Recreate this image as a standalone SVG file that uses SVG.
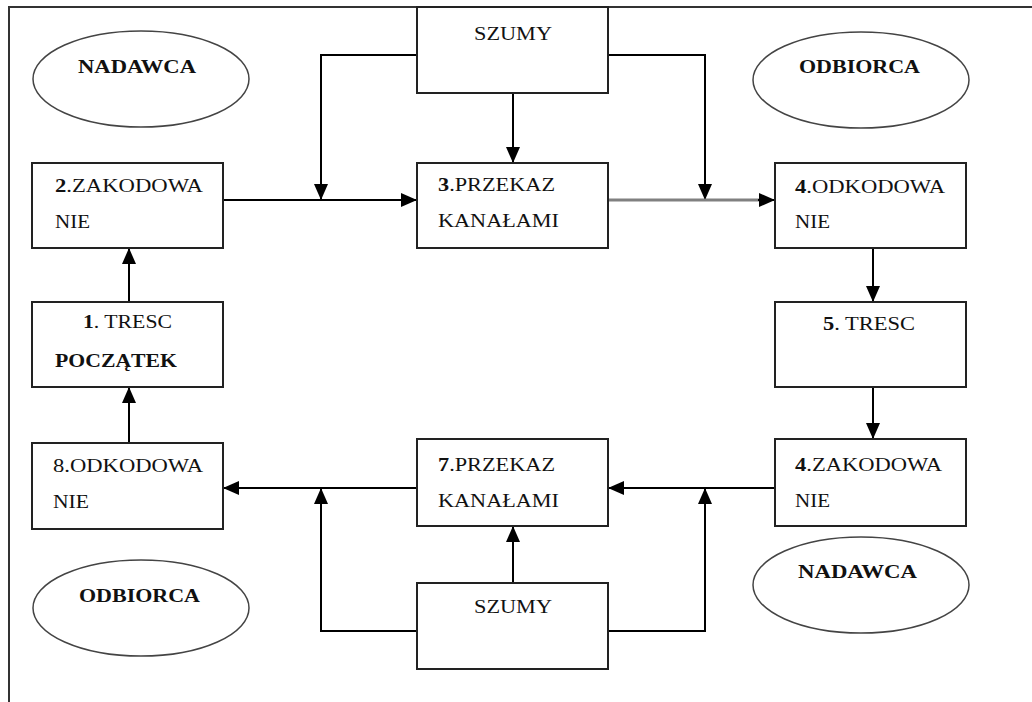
<svg xmlns="http://www.w3.org/2000/svg" width="1032" height="702" viewBox="0 0 1032 702">
<defs>
<marker id="ah" viewBox="0 0 16 14" refX="16" refY="7" markerWidth="16" markerHeight="14" markerUnits="userSpaceOnUse" orient="auto">
<path d="M0,0 L16,7 L0,14 Z" fill="#000"/>
</marker>
</defs>
<style>
.box{fill:#fff;stroke:#222;stroke-width:2}
.ell{fill:#fff;stroke:#444;stroke-width:1.5}
text{font-family:'Liberation Serif','DejaVu Serif',serif;font-size:19px;fill:#111}
.b{font-weight:bold}
.c{fill:none;stroke:#000;stroke-width:2}
.g{fill:none;stroke:#808080;stroke-width:3}
.frame{fill:none;stroke:#333;stroke-width:2}
</style>
<rect width="1032" height="702" fill="#fff"/>
<path class="frame" d="M9,702 L9,7 L1032,7"/>

<g id="connectors">
<path class="c" d="M417,55 L321,55 L321,200" marker-end="url(#ah)"/>
<path class="c" d="M513,93 L513,163" marker-end="url(#ah)"/>
<path class="c" d="M608,55 L705,55 L705,200" marker-end="url(#ah)"/>
<path class="c" d="M223,200 L417,200" marker-end="url(#ah)"/>
<path class="g" d="M608,200 L760,200"/>
<path class="c" d="M758,200 L775,200" marker-end="url(#ah)"/>
<path class="c" d="M873,248 L873,302" marker-end="url(#ah)"/>
<path class="c" d="M873,387 L873,439" marker-end="url(#ah)"/>
<path class="c" d="M775,488 L608,488" marker-end="url(#ah)"/>
<path class="c" d="M417,488 L223,488" marker-end="url(#ah)"/>
<path class="c" d="M417,631 L321,631 L321,488" marker-end="url(#ah)"/>
<path class="c" d="M608,631 L705,631 L705,488" marker-end="url(#ah)"/>
<path class="c" d="M513,583 L513,526" marker-end="url(#ah)"/>
<path class="c" d="M129,302 L129,248" marker-end="url(#ah)"/>
<path class="c" d="M129,443 L129,387" marker-end="url(#ah)"/>
</g>

<g id="nadawca1">
<ellipse class="ell" cx="141" cy="79" rx="108" ry="48"/>
<text class="b" x="78" y="73" font-family="Liberation Serif, DejaVu Serif, serif" textLength="118" lengthAdjust="spacingAndGlyphs">NADAWCA</text>
</g>
<g id="odbiorca1">
<ellipse class="ell" cx="861" cy="80" rx="108" ry="48"/>
<text class="b" x="799" y="73" font-family="Liberation Serif, DejaVu Serif, serif" textLength="121" lengthAdjust="spacingAndGlyphs">ODBIORCA</text>
</g>
<g id="odbiorca2">
<ellipse class="ell" cx="141" cy="608" rx="108" ry="48"/>
<text class="b" x="79" y="602" font-family="Liberation Serif, DejaVu Serif, serif" textLength="121" lengthAdjust="spacingAndGlyphs">ODBIORCA</text>
</g>
<g id="nadawca2">
<ellipse class="ell" cx="861" cy="585" rx="108" ry="48"/>
<text class="b" x="798" y="578" font-family="Liberation Serif, DejaVu Serif, serif" textLength="119" lengthAdjust="spacingAndGlyphs">NADAWCA</text>
</g>

<g id="szumy1">
<rect class="box" x="417" y="7" width="191" height="86"/>
<text x="474" y="40" font-family="Liberation Serif, DejaVu Serif, serif" textLength="78" lengthAdjust="spacingAndGlyphs">SZUMY</text>
</g>
<g id="zakodowanie2">
<rect class="box" x="32" y="163" width="191" height="85"/>
<text x="55" y="192" font-family="Liberation Serif, DejaVu Serif, serif" textLength="148" lengthAdjust="spacingAndGlyphs"><tspan class="b">2</tspan>.ZAKODOWA</text>
<text x="55" y="228" font-family="Liberation Serif, DejaVu Serif, serif" textLength="35" lengthAdjust="spacingAndGlyphs">NIE</text>
</g>
<g id="przekaz3">
<rect class="box" x="417" y="163" width="191" height="85"/>
<text x="438" y="191" font-family="Liberation Serif, DejaVu Serif, serif" textLength="117" lengthAdjust="spacingAndGlyphs"><tspan class="b">3</tspan>.PRZEKAZ</text>
<text x="438" y="227" font-family="Liberation Serif, DejaVu Serif, serif" textLength="121" lengthAdjust="spacingAndGlyphs">KANAŁAMI</text>
</g>
<g id="odkodowanie4">
<rect class="box" x="775" y="163" width="191" height="85"/>
<text x="795" y="193" font-family="Liberation Serif, DejaVu Serif, serif" textLength="150" lengthAdjust="spacingAndGlyphs"><tspan class="b">4</tspan>.ODKODOWA</text>
<text x="795" y="228" font-family="Liberation Serif, DejaVu Serif, serif" textLength="35" lengthAdjust="spacingAndGlyphs">NIE</text>
</g>
<g id="tresc1">
<rect class="box" x="32" y="302" width="191" height="85"/>
<text x="83" y="328" font-family="Liberation Serif, DejaVu Serif, serif" textLength="89" lengthAdjust="spacingAndGlyphs"><tspan class="b">1</tspan>. TRESC</text>
<text class="b" x="55" y="367" font-family="Liberation Serif, DejaVu Serif, serif" textLength="122" lengthAdjust="spacingAndGlyphs">POCZĄTEK</text>
</g>
<g id="tresc5">
<rect class="box" x="775" y="302" width="191" height="85"/>
<text x="823" y="330" font-family="Liberation Serif, DejaVu Serif, serif" textLength="92" lengthAdjust="spacingAndGlyphs"><tspan class="b">5</tspan>. TRESC</text>
</g>
<g id="odkodowanie8">
<rect class="box" x="32" y="443" width="191" height="86"/>
<text x="53" y="472" font-family="Liberation Serif, DejaVu Serif, serif" textLength="150" lengthAdjust="spacingAndGlyphs">8.ODKODOWA</text>
<text x="53" y="508" font-family="Liberation Serif, DejaVu Serif, serif" textLength="36" lengthAdjust="spacingAndGlyphs">NIE</text>
</g>
<g id="przekaz7">
<rect class="box" x="417" y="439" width="191" height="87"/>
<text x="438" y="471" font-family="Liberation Serif, DejaVu Serif, serif" textLength="117" lengthAdjust="spacingAndGlyphs"><tspan class="b">7</tspan>.PRZEKAZ</text>
<text x="438" y="507" font-family="Liberation Serif, DejaVu Serif, serif" textLength="121" lengthAdjust="spacingAndGlyphs">KANAŁAMI</text>
</g>
<g id="zakodowanie4">
<rect class="box" x="775" y="439" width="191" height="87"/>
<text x="795" y="471" font-family="Liberation Serif, DejaVu Serif, serif" textLength="147" lengthAdjust="spacingAndGlyphs"><tspan class="b">4</tspan>.ZAKODOWA</text>
<text x="795" y="507" font-family="Liberation Serif, DejaVu Serif, serif" textLength="35" lengthAdjust="spacingAndGlyphs">NIE</text>
</g>
<g id="szumy2">
<rect class="box" x="417" y="583" width="191" height="86"/>
<text x="474" y="613" font-family="Liberation Serif, DejaVu Serif, serif" textLength="78" lengthAdjust="spacingAndGlyphs">SZUMY</text>
</g>
</svg>
